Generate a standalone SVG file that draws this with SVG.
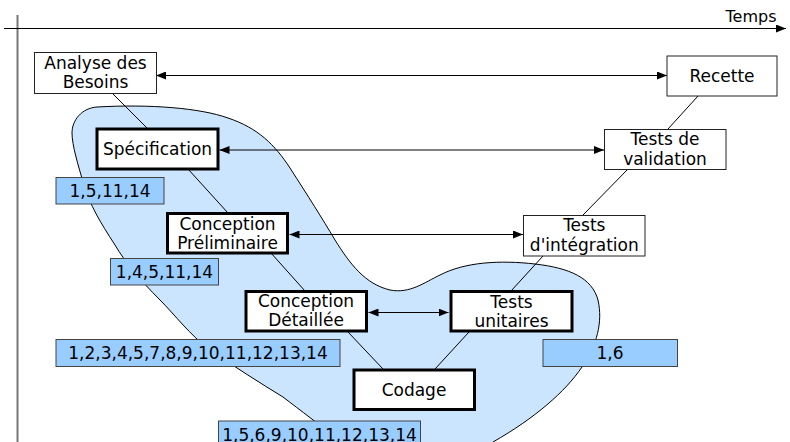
<svg xmlns="http://www.w3.org/2000/svg" width="790" height="442" viewBox="0 0 790 442">
<style>
text{font-family:"DejaVu Sans","Liberation Sans",sans-serif;font-size:17px;fill:#000;text-anchor:middle}
.thin{fill:#fff;stroke:#222;stroke-width:1}
.thick{fill:#fff;stroke:#000;stroke-width:3}
.lbl{fill:#99ccff;stroke:#444;stroke-width:1}
.ln{stroke:#000;stroke-width:1;fill:none}
</style>
<defs>
<marker id="ah" viewBox="0 0 10 8" refX="10" refY="4" markerWidth="10" markerHeight="8" markerUnits="userSpaceOnUse" orient="auto-start-reverse">
<path d="M0,0 L10,4 L0,8 Z" fill="#000"/>
</marker>
</defs>
<rect x="0" y="0" width="790" height="442" fill="#fff"/>
<g id="blob">
<path d="M97,107 C150,104 200,108 228,118 C258,128 275,145 290,168 C308,196 322,218 335,240 C350,264 365,284 390,290 C410,294 425,282 440,275 C465,262 500,260 535,264 C570,268 592,278 598,300 C603,322 597,345 582,367 C565,392 535,418 493,442 L480,470 L350,470 L345,445 C320,425 300,410 283,397 C260,383 235,367 210,350 C190,335 175,315 160,300 C140,280 125,262 115,245 C100,222 90,205 84,185 C78,165 72,145 72,133 C72,120 82,108 97,107 Z" fill="#cce5ff" stroke="#000" stroke-width="1"/>
</g>
<g id="axes">
<line x1="17.5" y1="15" x2="17.5" y2="442" stroke="#777" stroke-width="2"/>
<line x1="4" y1="28.5" x2="786" y2="28.5" class="ln" marker-end="url(#ah)"/>
<text x="751" y="22" style="font-size:16px">Temps</text>
</g>
<g id="connectors">
<line x1="112" y1="93" x2="147" y2="128" class="ln"/>
<line x1="188" y1="169" x2="228" y2="213" class="ln"/>
<line x1="271" y1="253" x2="305" y2="291" class="ln"/>
<line x1="348" y1="332" x2="383" y2="369" class="ln"/>
<line x1="435" y1="369" x2="469" y2="332" class="ln"/>
<line x1="511" y1="291" x2="543" y2="256" class="ln"/>
<line x1="583" y1="215" x2="628" y2="169" class="ln"/>
<line x1="668" y1="129" x2="698" y2="96" class="ln"/>
<line x1="156" y1="75.5" x2="667" y2="75.5" class="ln" marker-start="url(#ah)" marker-end="url(#ah)"/>
<line x1="219.5" y1="150" x2="604" y2="150" class="ln" marker-start="url(#ah)" marker-end="url(#ah)"/>
<line x1="289.5" y1="234.5" x2="523" y2="234.5" class="ln" marker-start="url(#ah)" marker-end="url(#ah)"/>
<line x1="368.5" y1="312.5" x2="448.5" y2="312.5" class="ln" marker-start="url(#ah)" marker-end="url(#ah)"/>
</g>
<g id="analyse">
<rect x="34.5" y="52.5" width="122" height="41" class="thin"/>
<text x="95.5" y="69">Analyse des</text>
<text x="95.5" y="88">Besoins</text>
</g>
<g id="recette">
<rect x="667" y="56" width="110" height="40" class="thin"/>
<text x="722" y="82">Recette</text>
</g>
<g id="specification">
<rect x="97" y="129" width="121" height="40" class="thick"/>
<text x="157.5" y="155">Spécification</text>
</g>
<g id="validation">
<rect x="604.5" y="129.5" width="121.5" height="40" class="thin"/>
<text x="665" y="145">Tests de</text>
<text x="665" y="164.5">validation</text>
</g>
<g id="preliminaire">
<rect x="167.5" y="213.5" width="120" height="39.5" class="thick"/>
<text x="227.5" y="229.5">Conception</text>
<text x="227.5" y="248.5">Préliminaire</text>
</g>
<g id="integration">
<rect x="523.5" y="215.5" width="121.5" height="40.5" class="thin"/>
<text x="584.3" y="231">Tests</text>
<text x="584.3" y="250.7">d'intégration</text>
</g>
<g id="detaillee">
<rect x="246" y="291.5" width="120.5" height="39.5" class="thick"/>
<text x="306" y="307">Conception</text>
<text x="306" y="326">Détaillée</text>
</g>
<g id="unitaires">
<rect x="451" y="291.5" width="121" height="39.5" class="thick"/>
<text x="511.5" y="307.5">Tests</text>
<text x="511.5" y="326.7">unitaires</text>
</g>
<g id="codage">
<rect x="354" y="370" width="120.5" height="39.5" class="thick"/>
<text x="414" y="395.7">Codage</text>
</g>
<g id="labels">
<g id="l1"><rect x="56" y="177.5" width="108" height="26.5" class="lbl"/><text x="110" y="197">1,5,11,14</text></g>
<g id="l2"><rect x="110.5" y="258.5" width="108" height="26.5" class="lbl"/><text x="164.5" y="278.3">1,4,5,11,14</text></g>
<g id="l3"><rect x="56" y="339.5" width="284" height="27" class="lbl"/><text x="198" y="358.5">1,2,3,4,5,7,8,9,10,11,12,13,14</text></g>
<g id="l4"><rect x="218.5" y="421" width="202" height="30" class="lbl"/><text x="319.5" y="440.5">1,5,6,9,10,11,12,13,14</text></g>
<g id="l5"><rect x="543" y="339.5" width="134.5" height="27" class="lbl"/><text x="610" y="358.5">1,6</text></g>
</g>
</svg>
